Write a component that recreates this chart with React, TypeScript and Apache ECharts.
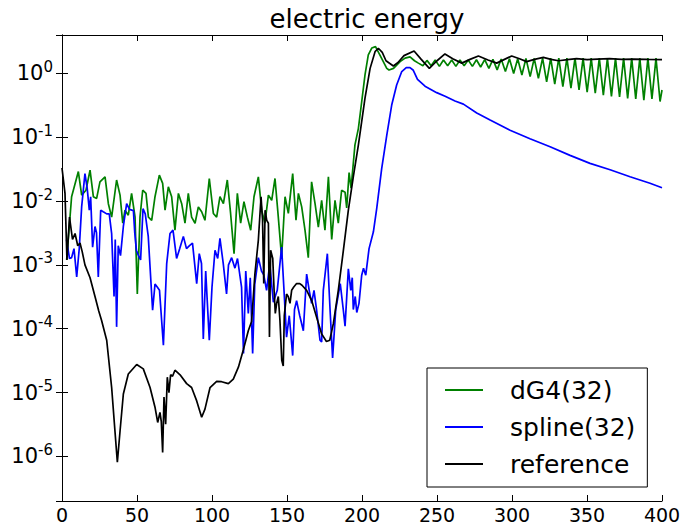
import { useEffect, useRef } from "react";
import * as echarts from "echarts";

const FONT = "DejaVu Sans";

const titleText = "electric energy";
const seriesNames = ["dG4(32)", "spline(32)", "reference"];
const xMin = 0;
const xMax = 400;
const xInterval = 50;
const yMin = 2e-7;
const yMax = 4;

// dG4(32): [time, energy]
const dG4Data: [number, number][] = [
  [3.1, 0.0012], [6.4, 0.0117], [10.9, 0.029], [13.1, 0.0124], [16, 0.0148], [18.7, 0.0305],
  [20.9, 0.0117], [23.1, 0.011], [25.3, 0.02], [28.7, 0.024], [30.9, 0.0091], [33.1, 0.0056],
  [36.4, 0.0214], [38.7, 0.0124], [40.5, 0.0045], [42, 0.0072], [44.2, 0.006], [46.4, 0.0132],
  [48.7, 0.0056], [50.2, 0.00035], [52, 0.0056], [53.8, 0.0148], [56, 0.0132], [57.6, 0.0056],
  [59.8, 0.005], [62, 0.0117], [64.9, 0.0255], [67.1, 0.0189], [68.7, 0.0072], [70.9, 0.0167],
  [73.1, 0.0117], [75.3, 0.0035], [77.6, 0.0132], [79.8, 0.0091], [82, 0.0045], [84.2, 0.0132],
  [86.4, 0.0056], [88.7, 0.0045], [90.9, 0.0081], [93.1, 0.0068], [95.3, 0.005], [98.2, 0.0226],
  [100.9, 0.0064], [103.1, 0.0056], [105.3, 0.0117], [107.6, 0.0091], [110.2, 0.0214], [112.4, 0.0064],
  [114.7, 0.0015], [116.9, 0.0132], [119.1, 0.0045], [121.3, 0.0098], [123.6, 0.0056], [125.8, 0.0035],
  [128, 0.0117], [130.9, 0.024], [133.1, 0.0072], [135.3, 0.0045], [137.6, 0.0124], [139.8, 0.0103],
  [142, 0.0226], [144.2, 0.0056], [146.4, 0.0013], [148.7, 0.0117], [150.9, 0.0064], [153.8, 0.027],
  [156, 0.005], [157.6, 0.0132], [159.8, 0.0081], [162, 0.0035], [164.2, 0.0013], [166.4, 0.02],
  [168.7, 0.0091], [170.9, 0.0039], [173.1, 0.0103], [175.3, 0.0035], [177.6, 0.024], [179.8, 0.0025],
  [182, 0.0103], [184.2, 0.0045], [186.4, 0.0148], [188.7, 0.0138], [189.8, 0.0078], [191.4, 0.028],
  [192.7, 0.016], [194.2, 0.039], [195.3, 0.076], [197.6, 0.138], [199.8, 0.36], [202, 0.95],
  [204.2, 1.95], [206.5, 2.5], [209, 2.63], [213, 1.74], [216.5, 1.2], [218, 1.13], [221, 1.2],
  [225.4, 1.53], [228.7, 1.74], [232, 1.82], [235, 1.58], [237.6, 1.45],
  [240.6, 1.32], [243.3, 1.6], [246.1, 1.32], [248.8, 1.62], [251.6, 1.29], [254.3, 1.62],
  [257.1, 1.32], [259.8, 1.62], [262.6, 1.29], [265.3, 1.62], [268.1, 1.32], [270.8, 1.62],
  [273.6, 1.29], [276.3, 1.64], [279.1, 1.26], [281.8, 1.65], [284.6, 1.2], [287.3, 1.66],
  [290.1, 1.135], [292.8, 1.68], [295.6, 1.07], [298.3, 1.7], [301.1, 1.0], [303.8, 1.7],
  [306.6, 0.946], [309.3, 1.72], [312.1, 0.89], [314.8, 1.72], [317.6, 0.84], [320.4, 1.74],
  [323.1, 0.74], [325.8, 1.74], [328.5, 0.68], [331.2, 1.74], [333.9, 0.62], [336.6, 1.74],
  [339.3, 0.59], [342, 1.74], [344.7, 0.55], [347.4, 1.74], [350.1, 0.51], [352.8, 1.74],
  [355.5, 0.49], [358.2, 1.74], [360.9, 0.457], [363.6, 1.74], [366.3, 0.436], [369, 1.74],
  [371.7, 0.427], [374.4, 1.74], [377.1, 0.407], [379.8, 1.74], [382.5, 0.4], [385.2, 1.74],
  [387.9, 0.38], [390.6, 1.74], [393.3, 0.4], [396, 1.74], [398.7, 0.363], [400, 0.55],
];

// spline(32)
const splineData: [number, number][] = [
  [3, 0.0025], [5, 0.00126], [6.4, 0.0013], [8, 0.0018], [9.8, 0.00065], [11.5, 0.0018],
  [13.1, 0.0081], [15.3, 0.027], [16.8, 0.0158], [18.2, 0.0072], [19.1, 0.0117], [20.4, 0.0019],
  [22, 0.004], [23, 0.0032], [24.2, 0.00065], [25.8, 0.0072], [27.5, 0.0068], [29.8, 0.0063],
  [31.5, 0.0063], [33.1, 0.0031], [34.7, 0.00032], [35.5, 0.0025], [36.4, 0.000107], [37.5, 0.002],
  [39, 0.0014], [40.9, 0.004], [43.1, 0.0091], [45, 0.0074], [47.6, 0.0071], [48.5, 0.0032],
  [49.6, 0.0017], [51, 0.0014], [52.4, 0.0012], [54, 0.0076], [55.5, 0.0063], [57.5, 0.0028],
  [60.4, 0.000195], [62, 0.0005], [63.5, 0.00045], [65, 0.0004], [67.6, 0.000055], [69.8, 0.00105],
  [72, 0.0031], [74, 0.0035], [76.4, 0.00126], [78.5, 0.0018], [80.9, 0.0028], [83, 0.0018],
  [85, 0.002], [87, 0.0022], [89.8, 0.00051], [91.5, 0.0015], [93, 0.00105], [94.2, 0.000069],
  [95.8, 0.0008], [98.2, 0.000066], [100, 0.00045], [102, 0.0017], [103.8, 0.00126], [105.3, 0.0026],
  [107.5, 0.00105], [109.7, 0.00035], [111, 0.001], [113.1, 0.0013], [115.3, 0.00089], [117, 0.00126],
  [119.7, 0.00045], [121, 0.000041], [122.5, 0.0008], [124.2, 0.000174], [125.5, 0.00063], [127.1, 0.000041],
  [128.5, 0.0005], [130.9, 0.0013], [133, 0.0008], [134.5, 0.0007], [136.4, 0.0004], [138.5, 0.00105],
  [140.9, 0.00026], [143.5, 0.0004], [146.4, 0.0019], [148, 0.0004], [149.7, 0.000074], [151.5, 0.00016],
  [153.8, 0.000038], [155, 0.0002], [156.4, 0.000275], [158.5, 0.00016], [160.9, 0.000093], [163.1, 0.00072],
  [164.8, 0.0004], [166.4, 0.00025], [168, 0.0004], [169.7, 0.0002], [172, 0.000066], [173.1, 0.000062],
  [174.2, 0.0004], [176.9, 0.0015], [178.7, 0.0002], [180.4, 0.000035], [182.5, 0.0002], [185.5, 0.00051],
  [187.5, 0.0002], [188.7, 0.00011], [190.9, 0.00087], [192.5, 0.0004], [193.5, 0.00063], [194.2, 0.0002],
  [195.5, 0.00032], [196.5, 0.00018], [198, 0.00025], [199.8, 0.00069], [201, 0.00089], [202.5, 0.00069],
  [204.7, 0.0018], [207.6, 0.0033], [209.8, 0.0076], [213.1, 0.032], [216.5, 0.107], [219.8, 0.32],
  [223.1, 0.66], [226.5, 1.07], [229.5, 1.23], [232, 1.23], [234.2, 1.12], [237, 0.81],
  [242, 0.63], [249.8, 0.5], [255.4, 0.44], [262, 0.37], [267.6, 0.33], [276.5, 0.24],
  [285.4, 0.186], [298.7, 0.129], [312, 0.095], [325.4, 0.071], [338.7, 0.052], [352, 0.039],
  [365.4, 0.031], [378.7, 0.024], [392, 0.019], [400, 0.0162],
];

// reference
const referenceData: [number, number][] = [
  [0, 0.033], [2, 0.0132], [3.3, 0.0012], [5, 0.0056], [7, 0.0025], [8.7, 0.0031],
  [10.5, 0.002], [12, 0.0022], [13.5, 0.0016], [15.3, 0.001], [18.7, 0.00063], [22, 0.00032],
  [24.5, 0.00019], [26.4, 0.000135], [29.8, 0.000066], [33.1, 0.000012], [35.3, 0.0000025], [36.9, 0.00000081],
  [38.7, 0.0000025], [40.9, 0.0000095], [44.2, 0.0000195], [49.8, 0.0000275], [54.2, 0.0000235], [58.7, 0.000012],
  [62, 0.0000059], [63.8, 0.0000034], [65.3, 0.0000049], [66.2, 0.0000035], [67.1, 0.00000115], [68, 0.0000085],
  [69.1, 0.0000032], [70.2, 0.0000174], [71.3, 0.00001], [72.4, 0.000019], [73.7, 0.000018], [75.3, 0.0000224],
  [78.7, 0.000019], [83.1, 0.0000138], [86.4, 0.000012], [89.8, 0.0000074], [93.1, 0.0000041], [95.3, 0.0000055],
  [98.7, 0.000012], [103.1, 0.000015], [106.4, 0.0000148], [110.9, 0.0000138], [114.2, 0.0000162], [117.6, 0.000025],
  [120.9, 0.000047], [124.2, 0.000093], [126.4, 0.00013], [128.6, 0.00072], [130.9, 0.00245], [132.7, 0.0117],
  [133.7, 0.005], [134.5, 0.00051], [135.4, 0.0072], [136.5, 0.005], [137.6, 0.0045], [138.3, 0.000074],
  [139.1, 0.0017], [140.5, 0.00126], [141.4, 0.0004], [142.2, 0.000174], [143.1, 0.00025], [144.2, 0.00032],
  [145.3, 0.000135], [146.5, 0.000032], [147.5, 0.000026], [148.2, 0.00016], [149.7, 0.00035], [150.8, 0.00032],
  [152, 0.00025], [153.1, 0.0004], [154.5, 0.00045], [156.4, 0.00051], [158.5, 0.00051], [160, 0.00048],
  [163.1, 0.0004], [166.5, 0.000275], [169.8, 0.00015], [173.1, 0.000083], [176.3, 0.000063], [178.5, 0.000066],
  [180.9, 0.00012], [184.2, 0.0004], [187.6, 0.0017], [190.9, 0.0072], [194.2, 0.024], [197.6, 0.076],
  [200, 0.19], [202, 0.41], [205.4, 1.2], [208.7, 2.19], [210.9, 2.48], [213.5, 2.14],
  [216, 1.58], [220.9, 1.31], [224, 1.48], [228, 1.9], [234.7, 2.25], [239.5, 1.66],
  [244.9, 1.2], [250, 1.58], [255.3, 2.02], [260.5, 1.7], [266.5, 1.45], [272, 1.66],
  [277.6, 1.88], [284, 1.62], [289.8, 1.45], [295, 1.66], [299.8, 1.88], [305, 1.7],
  [309.8, 1.53], [315, 1.66], [320.9, 1.78], [326, 1.66], [331, 1.58], [337, 1.64],
  [343, 1.7], [350, 1.64], [357, 1.68], [365, 1.7], [373, 1.66], [381, 1.68],
  [390, 1.66], [400, 1.64],
];

const seriesColors = ["#008000", "#0000ff", "#000000"];

export default function App() {
  const ref = useRef<HTMLDivElement>(null);
  useEffect(() => {
    if (!ref.current) return;
    const chart = echarts.init(ref.current, undefined, { renderer: "svg" });
    const tickStyle = { show: true, inside: true, length: 6, lineStyle: { color: "#000", width: 1 } };
    const lineAxis = { show: true, lineStyle: { color: "#000", width: 1 } };
    const yFormatter = (v: number) => {
      const e = Math.round(Math.log10(v));
      return `{b|10}{s|${e}}`;
    };
    const allData = [dG4Data, splineData, referenceData];
    chart.setOption({
      animation: false,
      backgroundColor: "#fff",
      title: {
        text: titleText,
        left: 362,
        top: 1,
        textAlign: "center",
        textStyle: { fontFamily: FONT, fontSize: 26, fontWeight: "normal", color: "#000" },
      },
      grid: { left: 62, right: 23, top: 35, bottom: 26 },
      legend: {
        orient: "vertical",
        left: 427,
        top: 368,
        padding: [9, 12, 10, 18],
        itemGap: 11,
        itemWidth: 38,
        itemHeight: 2,
        icon: "rect",
        borderColor: "#000",
        borderWidth: 1,
        borderRadius: 0,
        backgroundColor: "#fff",
        textStyle: { fontFamily: FONT, fontSize: 25, color: "#000", lineHeight: 26, padding: [0, 0, 0, 22] },
        data: seriesNames,
      },
      xAxis: [
        {
          type: "value",
          min: xMin,
          max: xMax,
          interval: xInterval,
          axisLine: lineAxis,
          axisTick: tickStyle,
          splitLine: { show: false },
          axisLabel: { fontFamily: FONT, fontSize: 19, lineHeight: 19, color: "#000", margin: 4 },
        },
        {
          type: "value",
          position: "top",
          min: xMin,
          max: xMax,
          interval: xInterval,
          axisLine: lineAxis,
          axisTick: tickStyle,
          splitLine: { show: false },
          axisLabel: { show: false },
        },
      ],
      yAxis: [
        {
          type: "log",
          logBase: 10,
          min: yMin,
          max: yMax,
          axisLine: lineAxis,
          axisTick: tickStyle,
          splitLine: { show: false },
          axisLabel: {
            showMinLabel: false,
            showMaxLabel: false,
            margin: 9,
            formatter: yFormatter,
            rich: {
              b: { fontFamily: FONT, fontSize: 21, color: "#000" },
              s: { fontFamily: FONT, fontSize: 15, color: "#000", padding: [0, 0, 13, 0] },
            },
          },
        },
        {
          type: "log",
          logBase: 10,
          position: "right",
          min: yMin,
          max: yMax,
          axisLine: lineAxis,
          axisTick: tickStyle,
          splitLine: { show: false },
          axisLabel: { show: false },
        },
      ],
      series: seriesNames.map((name, i) => ({
        name,
        type: "line",
        xAxisIndex: 0,
        yAxisIndex: 0,
        data: allData[i],
        showSymbol: false,
        symbol: "none",
        color: seriesColors[i],
        lineStyle: { color: seriesColors[i], width: 1.7 },
      })),
    });
    return () => chart.dispose();
  }, []);
  return (
    <div
      ref={ref}
      style={{ position: "absolute", left: 0, top: 0, width: 685, height: 527, background: "#fff" }}
    />
  );
}
